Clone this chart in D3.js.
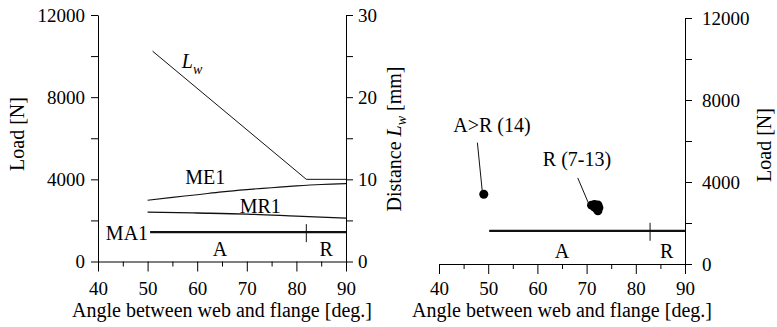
<!DOCTYPE html>
<html lang="en">
<head>
	<meta charset="UTF-8">
	<title>Load and distance vs angle</title>
	<script src="https://cdn.jsdelivr.net/npm/d3@7/dist/d3.min.js"></script>
	<style type="text/css">
		body { margin: 0; background: #fff; }
		svg text { font-family: "Liberation Serif", "Times New Roman", Tinos, "DejaVu Serif", serif !important; }
		.axis path, .axis line { stroke: #000; stroke-width: 1; }
		.axis text { font-size: 19px; fill: #000; }
		.lbl { font-size: 20px; fill: #000; }
	</style>
</head>
<body>
<script type="text/javascript">
	// left panel series (angle in deg.)
	var lwAngle = [51, 82, 90];
	var lwDist = [25.6, 10, 10];          // distance Lw [mm]
	var me1Angle = [50, 55, 60, 65, 70, 75, 80, 85, 90];
	var me1Load = [2980, 3120, 3250, 3390, 3500, 3590, 3680, 3750, 3790];
	var mr1Angle = [50, 60, 70, 80, 90];
	var mr1Load = [2400, 2360, 2310, 2210, 2110];
	var ma1Angle = [50.5, 90];
	var ma1Load = [1430, 1430];
	var leftBoundary = 82;               // A | R limit

	// right panel series
	var expAngle = [49.1, 71.0, 71.6, 72.3, 72.5, 72.0, 72.3, 71.6];
	var expLoad = [3400, 2870, 2900, 2880, 2750, 2700, 2600, 2780];
	var rightLineAngle = [50.2, 90];
	var rightLineLoad = [1620, 1620];
	var rightBoundary = 82.9;

	var xTicks = [40, 50, 60, 70, 80, 90];
	var loadTicks = [0, 4000, 8000, 12000];
	var distTicks = [0, 10, 20, 30];

	var W = 777, H = 327;
	var svg = d3.select('body').append('svg')
		.attr('width', W).attr('height', H);

	var fmt = d3.format('d');

	function minorAxis(axisFn, scale, vals, len, tr) {
		svg.append('g').attr('class', 'axis')
			.attr('transform', tr)
			.call(axisFn(scale).tickValues(vals).tickSize(len).tickFormat(''))
			.select('.domain').remove();
	}

	function fixFont(g) {
		g.attr('font-family', null).attr('font-size', null);
	}

	// ---------- left panel ----------
	var x1 = d3.scaleLinear().domain([40, 90]).range([98, 346]);
	var yL = d3.scaleLinear().domain([0, 12000]).range([261.5, 15]);
	var yD = d3.scaleLinear().domain([0, 30]).range([261.5, 15]);

	svg.append('g').attr('class', 'axis')
		.attr('transform', 'translate(0,' + yL(0) + ')')
		.call(d3.axisBottom(x1).tickValues(xTicks).tickSize(10).tickSizeOuter(0).tickPadding(10).tickFormat(fmt))
		.call(fixFont);
	minorAxis(d3.axisBottom, x1, [45, 55, 65, 75, 85], 5, 'translate(0,' + yL(0) + ')');

	svg.append('g').attr('class', 'axis')
		.attr('transform', 'translate(' + x1(40) + ',0)')
		.call(d3.axisLeft(yL).tickValues(loadTicks).tickSize(7).tickSizeOuter(0).tickPadding(6).tickFormat(fmt))
		.call(fixFont);
	minorAxis(d3.axisLeft, yL, [2000, 6000, 10000], 7, 'translate(' + x1(40) + ',0)');

	svg.append('g').attr('class', 'axis')
		.attr('transform', 'translate(' + x1(90) + ',0)')
		.call(d3.axisRight(yD).tickValues(distTicks).tickSize(7).tickSizeOuter(0).tickPadding(5).tickFormat(fmt))
		.call(fixFont);
	minorAxis(d3.axisRight, yD, [5, 15, 25], 7, 'translate(' + x1(90) + ',0)');

	var line = d3.line();

	svg.append('path')
		.attr('d', line(lwAngle.map(function (a, i) { return [x1(a), yD(lwDist[i])]; })))
		.attr('fill', 'none').attr('stroke', '#111').attr('stroke-width', 1);
	svg.append('path')
		.attr('d', d3.line().curve(d3.curveMonotoneX)(me1Angle.map(function (a, i) { return [x1(a), yL(me1Load[i])]; })))
		.attr('fill', 'none').attr('stroke', '#111').attr('stroke-width', 1.1);
	svg.append('path')
		.attr('d', d3.line().curve(d3.curveMonotoneX)(mr1Angle.map(function (a, i) { return [x1(a), yL(mr1Load[i])]; })))
		.attr('fill', 'none').attr('stroke', '#111').attr('stroke-width', 1.3);
	svg.append('path')
		.attr('d', line(ma1Angle.map(function (a, i) { return [x1(a), yL(ma1Load[i])]; })))
		.attr('fill', 'none').attr('stroke', '#111').attr('stroke-width', 2.2);
	svg.append('line')
		.attr('x1', x1(leftBoundary)).attr('x2', x1(leftBoundary))
		.attr('y1', yL(ma1Load[0]) - 8).attr('y2', yL(ma1Load[0]) + 10)
		.attr('stroke', '#111').attr('stroke-width', 1);

	// Lw label
	var lw = svg.append('text').attr('class', 'lbl')
		.attr('x', x1(56.9)).attr('y', yD(23.5));
	lw.append('tspan').style('font-style', 'italic').text('L');
	lw.append('tspan').style('font-style', 'italic').style('font-size', '14px').attr('dy', 6).text('w');

	svg.append('text').attr('class', 'lbl').attr('text-anchor', 'middle')
		.attr('x', x1(61.6)).attr('y', yL(3750)).text('ME1');
	svg.append('text').attr('class', 'lbl').attr('text-anchor', 'middle')
		.attr('x', x1(72.7)).attr('y', yL(2340)).text('MR1');
	svg.append('text').attr('class', 'lbl').attr('text-anchor', 'end')
		.attr('x', x1(50.1)).attr('y', yL(1070)).text('MA1');
	svg.append('text').attr('class', 'lbl').attr('text-anchor', 'middle')
		.attr('x', x1(64.6)).attr('y', yL(270)).text('A');
	svg.append('text').attr('class', 'lbl').attr('text-anchor', 'middle')
		.attr('x', x1(86)).attr('y', yL(270)).text('R');

	svg.append('text').attr('class', 'lbl').attr('text-anchor', 'middle')
		.attr('x', (x1(40) + x1(90)) / 2).attr('y', 317)
		.text('Angle between web and flange [deg.]');
	svg.append('text').attr('class', 'lbl').attr('text-anchor', 'middle')
		.attr('transform', 'translate(24,134) rotate(-90)')
		.text('Load [N]');
	var dl = svg.append('text').attr('class', 'lbl').attr('text-anchor', 'middle')
		.attr('transform', 'translate(401,139) rotate(-90)');
	dl.append('tspan').text('Distance ');
	dl.append('tspan').style('font-style', 'italic').text('L');
	dl.append('tspan').style('font-style', 'italic').style('font-size', '14px').attr('dy', 5).text('w');
	dl.append('tspan').attr('dy', -5).text(' [mm]');

	// ---------- right panel ----------
	var x2 = d3.scaleLinear().domain([40, 90]).range([439, 685]);
	var y2 = d3.scaleLinear().domain([0, 12000]).range([264, 18]);

	svg.append('g').attr('class', 'axis')
		.attr('transform', 'translate(0,' + y2(0) + ')')
		.call(d3.axisBottom(x2).tickValues(xTicks).tickSize(10).tickSizeOuter(0).tickPadding(7.5).tickFormat(fmt))
		.call(fixFont);
	minorAxis(d3.axisBottom, x2, [45, 55, 65, 75, 85], 5, 'translate(0,' + y2(0) + ')');

	svg.append('g').attr('class', 'axis')
		.attr('transform', 'translate(' + x2(90) + ',0)')
		.call(d3.axisRight(y2).tickValues(loadTicks).tickSize(7).tickSizeOuter(0).tickPadding(10).tickFormat(fmt))
		.call(fixFont);
	minorAxis(d3.axisRight, y2, [2000, 6000, 10000], 7, 'translate(' + x2(90) + ',0)');

	svg.append('path')
		.attr('d', line(rightLineAngle.map(function (a, i) { return [x2(a), y2(rightLineLoad[i])]; })))
		.attr('fill', 'none').attr('stroke', '#111').attr('stroke-width', 2.2);
	svg.append('line')
		.attr('x1', x2(rightBoundary)).attr('x2', x2(rightBoundary))
		.attr('y1', y2(rightLineLoad[0]) - 8).attr('y2', y2(rightLineLoad[0]) + 10)
		.attr('stroke', '#111').attr('stroke-width', 1);

	svg.selectAll('.pt')
		.data(expAngle)
		.enter().append('circle')
		.attr('class', 'pt')
		.attr('cx', function (d) { return x2(d); })
		.attr('cy', function (d, i) { return y2(expLoad[i]); })
		.attr('r', 4.5)
		.style('fill', '#000');

	// annotations
	svg.append('text').attr('class', 'lbl')
		.attr('x', x2(42.9)).attr('y', y2(6440)).text('A>R (14)');
	svg.append('line')
		.attr('x1', x2(47.8)).attr('y1', y2(5920))
		.attr('x2', x2(48.8)).attr('y2', y2(3540))
		.attr('stroke', '#111').attr('stroke-width', 1);
	svg.append('text').attr('class', 'lbl')
		.attr('x', x2(61.1)).attr('y', y2(4780)).text('R (7-13)');
	svg.append('line')
		.attr('x1', x2(68.2)).attr('y1', y2(4200))
		.attr('x2', x2(70.5)).attr('y2', y2(2900))
		.attr('stroke', '#111').attr('stroke-width', 1);
	svg.append('text').attr('class', 'lbl').attr('text-anchor', 'middle')
		.attr('x', x2(65)).attr('y', y2(300)).text('A');
	svg.append('text').attr('class', 'lbl').attr('text-anchor', 'middle')
		.attr('x', x2(86.3)).attr('y', y2(300)).text('R');

	svg.append('text').attr('class', 'lbl').attr('text-anchor', 'middle')
		.attr('x', (x2(40) + x2(90)) / 2).attr('y', 317)
		.text('Angle between web and flange [deg.]');
	svg.append('text').attr('class', 'lbl').attr('text-anchor', 'middle')
		.attr('transform', 'translate(771,145) rotate(-90)')
		.text('Load [N]');
</script>
</body>
</html>
